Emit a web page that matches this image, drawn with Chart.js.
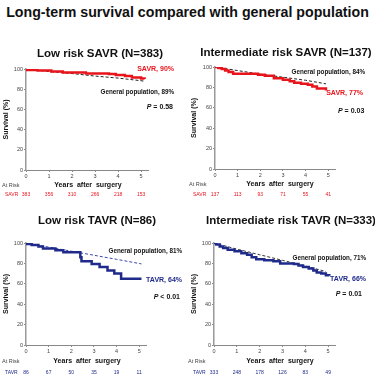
<!DOCTYPE html>
<html lang="en">
<head>
<meta charset="UTF-8">
<title>Long-term survival compared with general population</title>
<script src="https://cdn.jsdelivr.net/npm/chart.js@4.4.1/dist/chart.umd.min.js"></script>
<style>
    body { margin: 0; width: 375px; height: 375px; background: #fff; position: relative; overflow: hidden; font-family: "Liberation Sans", Arial, sans-serif; }
    h1 { position: absolute; top: 3px; left: 0; width: 375px; margin: 0; text-align: center; font-size: 14.2px; line-height: 18px; color: #111; }
    canvas { position: absolute; }
</style>
</head>
<body>
<h1>Long-term survival compared with general population</h1>
<canvas id="p1" width="187" height="160" style="left:0;top:40px"></canvas>
<canvas id="p2" width="188" height="160" style="left:187px;top:40px"></canvas>
<canvas id="p3" width="187" height="175" style="left:0;top:200px"></canvas>
<canvas id="p4" width="188" height="175" style="left:187px;top:200px"></canvas>
<script>
const years = [0, 1, 2, 3, 4, 5]

// low risk SAVR
const lowSavrT = [0, 0.5, 1.1, 1.6, 2.6, 3.6, 3.9, 4.3, 4.6, 5.0, 5.15]
const lowSavrS = [99, 98.5, 97.5, 96.5, 95.5, 95, 94, 93, 91.5, 90.5, 90]
const lowSavrPopT = [0, 1, 2, 3, 4, 5.15]
const lowSavrPopS = [100, 97.5, 95.5, 93, 91, 88]
const lowSavrRisk = [383, 356, 310, 266, 218, 153]

// intermediate risk SAVR
const intSavrT = [0, 0.15, 0.3, 0.45, 0.6, 0.8, 1.9, 2.2, 2.6, 3.0, 3.3, 3.5, 3.8, 4.1, 4.3, 4.5, 4.9]
const intSavrS = [100, 99, 98, 96.5, 95, 93.5, 92.5, 91.5, 89, 87.5, 86, 84.5, 83.5, 82.5, 81, 79, 77]
const intSavrPopT = [0, 1, 2, 3, 4, 4.9]
const intSavrPopS = [100, 96.5, 93, 90, 87, 83.5]
const intSavrRisk = [137, 113, 93, 71, 55, 41]

// low risk TAVR
const lowTavrT = [0, 0.25, 0.55, 0.75, 1.3, 1.65, 2.4, 2.45, 2.9, 3.25, 3.6, 3.9, 4.2, 5.1]
const lowTavrS = [99, 98, 96.5, 94.5, 93, 91, 86, 82, 79.5, 76.5, 73, 70, 65, 65]
const lowTavrPopT = [0, 1, 2, 3, 4, 5.1]
const lowTavrPopS = [100, 96, 92, 88, 84, 79.5]
const lowTavrRisk = [86, 67, 50, 35, 19, 11]

// intermediate risk TAVR
const intTavrT = [0, 0.1, 0.25, 0.4, 0.6, 0.9, 1.2, 1.45, 1.65, 1.85, 2.2, 2.6, 2.9, 3.5, 3.7, 3.9, 4.15, 4.35, 4.5, 4.7, 4.9, 5.05]
const intTavrS = [100, 98.5, 96.5, 95, 93.5, 92, 90, 88.5, 86, 84, 83, 82, 80, 79.5, 78, 76.5, 75, 73, 71, 70, 68.5, 68]
const intTavrPopT = [0, 1, 2, 3, 4, 4.9]
const intTavrPopS = [100, 94, 88.5, 83, 77.5, 72]
const intTavrRisk = [333, 248, 178, 126, 83, 49]

const RED = '#e8141c'
const BLUE = '#1f2a8a'
const FONT = '"Liberation Sans", Arial, sans-serif'
Chart.defaults.font.family = FONT

const pts = (t, s) => t.map((x, i) => ({x: x, y: s[i]}))

const panelText = {
    id: 'panelText',
    afterDraw(chart, args, o) {
        const ctx = chart.ctx
        const a = chart.chartArea
        const xs = chart.scales.x
        ctx.save()
        ctx.textBaseline = 'middle'
        ctx.fillStyle = '#111'
        ctx.textAlign = 'center'
        ctx.font = 'bold 11.5px ' + FONT
        ctx.fillText(o.title, o.titleX, o.titleY)

        ctx.save()
        ctx.translate(o.yTitleX, (a.top + a.bottom) / 2)
        ctx.rotate(-Math.PI / 2)
        ctx.font = 'bold 7px ' + FONT
        ctx.fillText('Survival (%)', 0, 0)
        ctx.restore()

        ctx.font = 'bold 7px ' + FONT
        ctx.fillText('Years  after  surgery', o.xTitleX, o.xTitleY)

        ctx.textAlign = 'left'
        ctx.font = '5.5px ' + FONT
        ctx.fillStyle = '#444'
        ctx.fillText('At Risk', o.atRiskX, o.xTitleY)

        ctx.fillStyle = o.color
        ctx.font = '5px ' + FONT
        ctx.fillText(o.group, o.groupX, o.riskY)
        ctx.textAlign = 'center'
        o.risk.forEach((n, i) => ctx.fillText(String(n), xs.getPixelForValue(years[i]), o.riskY))

        o.notes.forEach(n => {
            ctx.fillStyle = n.color || '#111'
            if (n.p) {
                ctx.font = 'bold 7px ' + FONT
                const rest = ' ' + n.p
                const wRest = ctx.measureText(rest).width
                ctx.font = 'italic bold 7px ' + FONT
                const wP = ctx.measureText('P').width
                const x0 = n.align === 'right' ? n.x - wRest - wP : n.x
                ctx.textAlign = 'left'
                ctx.fillText('P', x0, n.y)
                ctx.font = 'bold 7px ' + FONT
                ctx.fillText(rest, x0 + wP, n.y)
            } else {
                ctx.font = 'bold ' + n.size + 'px ' + FONT
                ctx.textAlign = n.align
                ctx.fillText(n.text, n.x, n.y)
            }
        })
        ctx.restore()
    }
}

function makePanel(id, cfg) {
    new Chart(document.getElementById(id), {
        type: 'line',
        data: {
            datasets: [
                {
                    data: pts(cfg.t, cfg.s),
                    borderColor: cfg.color,
                    borderWidth: 2.5,
                    stepped: true,
                    pointRadius: 0,
                    fill: false
                },
                {
                    data: pts(cfg.popT, cfg.popS),
                    borderColor: cfg.popColor,
                    borderWidth: 1,
                    borderDash: [3, 2],
                    pointRadius: 0,
                    fill: false
                }
            ]
        },
        options: {
            responsive: false,
            animation: false,
            layout: {padding: {top: cfg.top, right: cfg.right, left: 0, bottom: 0}},
            plugins: {
                legend: {display: false},
                tooltip: {enabled: false},
                panelText: cfg.text
            },
            scales: {
                x: {
                    type: 'linear',
                    min: 0,
                    max: 5.3,
                    afterFit: s => { s.height = cfg.xh },
                    border: {color: '#888', width: 1},
                    grid: {drawOnChartArea: false, drawTicks: true, tickLength: 2, color: '#888'},
                    ticks: {stepSize: 1, includeBounds: false, padding: 1, color: '#444', font: {size: 5.5}}
                },
                y: {
                    min: 0,
                    max: 100,
                    afterFit: s => { s.width = cfg.left },
                    border: {color: '#999', width: 1.5},
                    grid: {drawOnChartArea: false, drawTicks: true, tickLength: 2, color: '#888'},
                    ticks: {stepSize: 20, padding: 1, color: '#444', font: {size: 5.5}}
                }
            }
        },
        plugins: [panelText]
    })
}

makePanel('p1', {
    t: lowSavrT, s: lowSavrS, popT: lowSavrPopT, popS: lowSavrPopS,
    color: RED, popColor: '#222', top: 29, right: 39, left: 26, xh: 30,
    text: {
        title: 'Low risk SAVR (N=383)', titleX: 100, titleY: 14, yTitleX: 6,
        xTitleX: 88, xTitleY: 145, atRiskX: 2, riskY: 155, group: 'SAVR', groupX: 5,
        color: RED, risk: lowSavrRisk,
        notes: [
            {text: 'SAVR, 90%', x: 174, y: 29, size: 7, align: 'right', color: RED},
            {text: 'General population, 89%', x: 174, y: 52, size: 6.3, align: 'right'},
            {p: '= 0.58', x: 173, y: 67, align: 'right'}
        ]
    }
})

makePanel('p2', {
    t: intSavrT, s: intSavrS, popT: intSavrPopT, popS: intSavrPopS,
    color: RED, popColor: '#222', top: 27, right: 40, left: 28, xh: 31,
    text: {
        title: 'Intermediate risk SAVR (N=137)', titleX: 99, titleY: 13, yTitleX: 7,
        xTitleX: 93, xTitleY: 144, atRiskX: 2, riskY: 155, group: 'SAVR', groupX: 6,
        color: RED, risk: intSavrRisk,
        notes: [
            {text: 'General population, 84%', x: 178, y: 32, size: 6.3, align: 'right'},
            {text: 'SAVR, 77%', x: 176, y: 53, size: 7, align: 'right', color: RED},
            {p: '= 0.03', x: 151, y: 71, align: 'left'}
        ]
    }
})

makePanel('p3', {
    t: lowTavrT, s: lowTavrS, popT: lowTavrPopT, popS: lowTavrPopS,
    color: BLUE, popColor: '#3a48a8', top: 43, right: 41, left: 26, xh: 30,
    text: {
        title: 'Low risk TAVR (N=86)', titleX: 97, titleY: 21, yTitleX: 6,
        xTitleX: 87, xTitleY: 161, atRiskX: 2, riskY: 172.5, group: 'TAVR', groupX: 5,
        color: BLUE, risk: lowTavrRisk,
        notes: [
            {text: 'General population, 81%', x: 182, y: 51, size: 6.3, align: 'right'},
            {text: 'TAVR, 64%', x: 182, y: 80, size: 7, align: 'right', color: BLUE},
            {p: '< 0.01', x: 180, y: 97, align: 'right'}
        ]
    }
})

makePanel('p4', {
    t: intTavrT, s: intTavrS, popT: intTavrPopT, popS: intTavrPopS,
    color: BLUE, popColor: '#333', top: 43, right: 40, left: 27, xh: 30,
    text: {
        title: 'Intermediate risk TAVR (N=333)', titleX: 104, titleY: 21, yTitleX: 7,
        xTitleX: 93, xTitleY: 161, atRiskX: 1, riskY: 172.5, group: 'TAVR', groupX: 6,
        color: BLUE, risk: intTavrRisk,
        notes: [
            {text: 'General population, 71%', x: 179, y: 58, size: 6.3, align: 'right'},
            {text: 'TAVR, 66%', x: 179, y: 79, size: 7, align: 'right', color: BLUE},
            {p: '= 0.01', x: 175, y: 94, align: 'right'}
        ]
    }
})
</script>
</body>
</html>
